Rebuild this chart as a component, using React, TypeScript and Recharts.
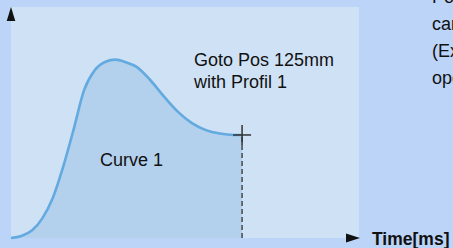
import React from 'react';
import { ComposedChart, Area, XAxis, YAxis, CartesianGrid, ReferenceLine, ReferenceDot } from 'recharts';

// motion profile (time in ms, speed in %)
const time = [0, 3, 6, 9, 12, 15, 18, 21, 24, 27, 30, 33, 36, 40, 44, 48, 52, 56, 60, 64, 66.4];
const speed = [0, 0.9, 3.2, 8.5, 17.3, 30.9, 47, 64, 72.5, 76.2, 77.2, 76.1, 74.2, 68.4, 61.2, 54.6, 49.7, 46.7, 45.2, 44.6, 44.6];

const seriesName = 'Curve 1';
const targetLines = ['Goto Pos 125mm', 'with Profil 1'];
const sideLines = ['Position', 'can be', '(Ex.', 'operation'];
const xTitle = 'Time[ms]';

const endTime = time[time.length - 1];
const endSpeed = speed[speed.length - 1];

const data = time.map((t, i) => ({ t, v: speed[i] }));

const FONT = '"Liberation Sans", Arial, sans-serif';
const OUTER_BG = '#bbd4f8';
const PANEL_BG = '#cfe1f5';
const AREA_FILL = '#b3d0ec';
const CURVE = '#62aadf';
const INK = '#111';

const Cross = ({ cx, cy }: any) => (
  <g stroke="#333" strokeWidth={1.5}>
    <line x1={cx - 9} y1={cy} x2={cx + 9} y2={cy} />
    <line x1={cx} y1={cy - 10} x2={cx} y2={cy + 10} />
  </g>
);

const ArrowRight = ({ cx, cy }: any) => (
  <polygon points={`${cx - 13},${cy - 4.5} ${cx + 1},${cy} ${cx - 13},${cy + 4.5}`} fill={INK} />
);

const ArrowUp = ({ cx, cy }: any) => (
  <polygon points={`${cx - 4.3},${cy + 14} ${cx},${cy} ${cx + 4.3},${cy + 14}`} fill={INK} />
);

// series name sits inside the filled area, so it is drawn as a reference mark on top
const CurveName = ({ cx, cy }: any) => (
  <text x={cx} y={cy} fontFamily={FONT} fontSize={18} fill={INK}>{seriesName}</text>
);

export default function App() {
  return (
    <div style={{ position: 'absolute', left: 0, top: 0, width: 453, height: 248, background: OUTER_BG, overflow: 'hidden' }}>
      <ComposedChart width={453} height={248} data={data} margin={{ top: 7, right: 94, bottom: 10, left: 11 }}>
        <CartesianGrid horizontal={false} vertical={false} fill={PANEL_BG} stroke="none" />
        <XAxis type="number" dataKey="t" domain={[0, 100]} height={0} tick={false} tickLine={false}
          axisLine={{ stroke: INK, strokeWidth: 1.5 }} />
        <YAxis type="number" domain={[0, 100]} width={0} tick={false} tickLine={false}
          axisLine={{ stroke: INK, strokeWidth: 1.5 }} />
        <Area type="monotone" dataKey="v" stroke={CURVE} strokeWidth={2.6} fill={AREA_FILL} fillOpacity={1}
          isAnimationActive={false} dot={false} activeDot={false} />
        <ReferenceLine segment={[{ x: endTime, y: 0 }, { x: endTime, y: endSpeed }]} stroke="#333"
          strokeWidth={1.3} strokeDasharray="5 3" />
        <ReferenceDot x={endTime} y={endSpeed} r={0} shape={<Cross />} />
        <ReferenceDot x={25.6} y={31.2} r={0} shape={<CurveName />} />
        <ReferenceDot x={100} y={0} r={0} shape={<ArrowRight />} ifOverflow="visible" />
        <ReferenceDot x={0} y={100} r={0} shape={<ArrowUp />} ifOverflow="visible" />
        <text x={194} y={66} fontFamily={FONT} fontSize={18} fill={INK}>{targetLines[0]}</text>
        <text x={194} y={88} fontFamily={FONT} fontSize={18} fill={INK}>{targetLines[1]}</text>
        {sideLines.map((s, i) => (
          <text key={s} x={432} y={3 + i * 27} fontFamily={FONT} fontSize={18} fill={INK}>{s}</text>
        ))}
        <text x={372} y={245} fontFamily={FONT} fontSize={17.5} fontWeight="bold" fill={INK}>{xTitle}</text>
      </ComposedChart>
    </div>
  );
}
